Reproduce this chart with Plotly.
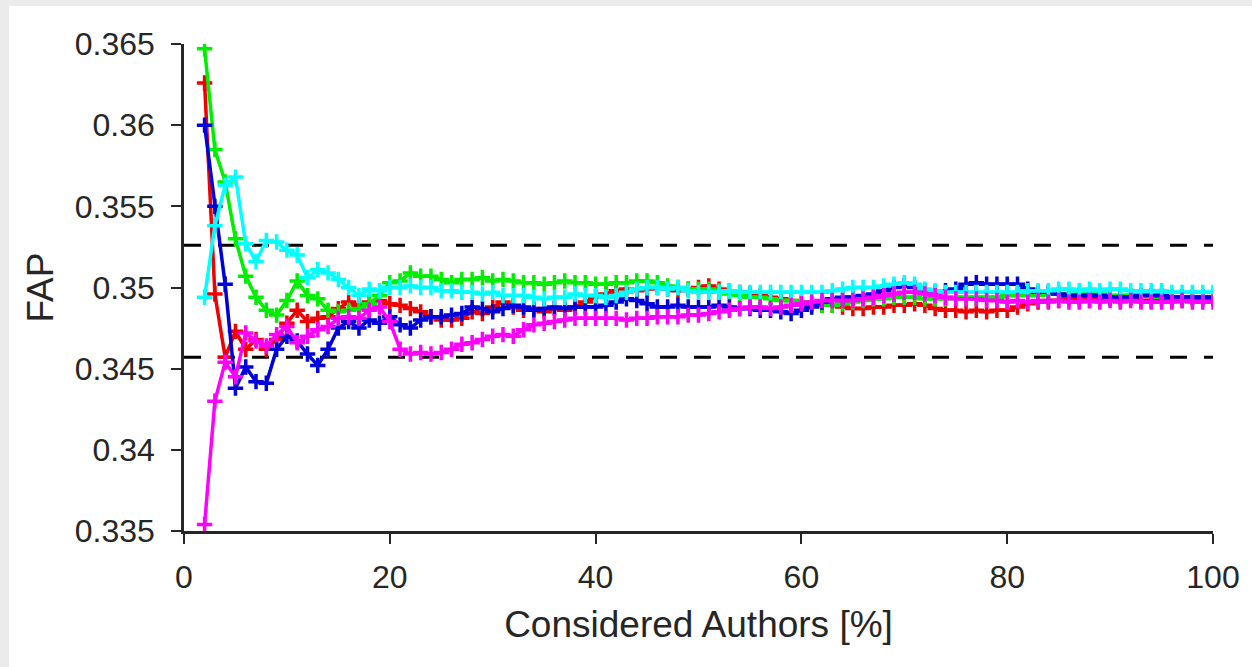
import plotly.graph_objects as go

pct = list(range(2, 101))

red = [0.3626, 0.3496, 0.3457, 0.3473, 0.3462, 0.3468, 0.3462, 0.3468, 0.3478, 0.3486,
       0.3479, 0.3481, 0.3482, 0.3487, 0.3491, 0.3489, 0.3491, 0.3492, 0.3490, 0.3489,
       0.3487, 0.3485, 0.3482, 0.3480, 0.3480, 0.3481, 0.3485, 0.3484, 0.3488, 0.3491,
       0.3488, 0.3486, 0.3487, 0.3485, 0.3487, 0.3486, 0.3488, 0.3491, 0.3494, 0.3496,
       0.3498, 0.3499, 0.3498, 0.3499, 0.3500, 0.3499, 0.3498, 0.3499, 0.3500, 0.3501,
       0.3499, 0.3498, 0.3497, 0.3496, 0.3495, 0.3494, 0.3493, 0.3492, 0.3491, 0.3490,
       0.3489, 0.3489, 0.3488, 0.3487, 0.3487, 0.3488, 0.3488, 0.3489, 0.3489, 0.3490,
       0.3489, 0.3487, 0.3486, 0.3486, 0.3485, 0.3486, 0.3485, 0.3486, 0.3486, 0.3488,
       0.3490, 0.3491, 0.3492, 0.3492, 0.3493, 0.3493, 0.3492, 0.3493, 0.3493, 0.3492,
       0.3493, 0.3492, 0.3492, 0.3493, 0.3492, 0.3492, 0.3493, 0.3493, 0.3493]

green = [0.3647, 0.3585, 0.3565, 0.3530, 0.3507, 0.3494, 0.3486, 0.3483, 0.3492, 0.3504,
         0.3495, 0.3493, 0.3486, 0.3485, 0.3486, 0.3487, 0.3490, 0.3495, 0.3503, 0.3504,
         0.3509, 0.3507, 0.3507, 0.3505, 0.3503, 0.3505, 0.3505, 0.3506, 0.3504, 0.3505,
         0.3504, 0.3503, 0.3503, 0.3502, 0.3503, 0.3504, 0.3503, 0.3503, 0.3502, 0.3502,
         0.3503, 0.3503, 0.3504, 0.3504, 0.3503, 0.3501, 0.3500, 0.3499, 0.3499, 0.3499,
         0.3498, 0.3496, 0.3495, 0.3494, 0.3494, 0.3493, 0.3492, 0.3492, 0.3491, 0.3490,
         0.3489, 0.3489, 0.3490, 0.3491, 0.3492, 0.3493, 0.3493, 0.3494, 0.3494, 0.3494,
         0.3493, 0.3493, 0.3493, 0.3494, 0.3494, 0.3494, 0.3494, 0.3494, 0.3495, 0.3495,
         0.3495, 0.3495, 0.3496, 0.3496, 0.3495, 0.3496, 0.3496, 0.3496, 0.3495, 0.3495,
         0.3495, 0.3495, 0.3495, 0.3494, 0.3494, 0.3494, 0.3494, 0.3494, 0.3494]

blue = [0.3600, 0.3550, 0.3502, 0.3438, 0.3451, 0.3442, 0.3441, 0.3462, 0.3470, 0.3467,
        0.3459, 0.3452, 0.3462, 0.3475, 0.3479, 0.3475, 0.3480, 0.3478, 0.3482, 0.3477,
        0.3475, 0.3480, 0.3482, 0.3482, 0.3483, 0.3484, 0.3488, 0.3487, 0.3485, 0.3487,
        0.3489, 0.3488, 0.3486, 0.3487, 0.3488, 0.3487, 0.3488, 0.3488, 0.3488, 0.3489,
        0.3491, 0.3493, 0.3492, 0.3490, 0.3488, 0.3488, 0.3489, 0.3488, 0.3488, 0.3488,
        0.3489, 0.3488, 0.3487, 0.3487, 0.3486, 0.3486, 0.3485, 0.3484, 0.3486, 0.3488,
        0.3491, 0.3493, 0.3494, 0.3494, 0.3495, 0.3496, 0.3498, 0.3500, 0.3501, 0.3500,
        0.3498, 0.3497, 0.3498, 0.3499, 0.3502, 0.3503, 0.3502, 0.3502, 0.3502, 0.3502,
        0.3499, 0.3497, 0.3497, 0.3496, 0.3495, 0.3495, 0.3495, 0.3495, 0.3494, 0.3494,
        0.3494, 0.3495, 0.3495, 0.3495, 0.3494, 0.3494, 0.3494, 0.3494, 0.3494]

cyan = [0.3494, 0.3538, 0.3563, 0.3568, 0.3527, 0.3516, 0.3529, 0.3528, 0.3523, 0.3520,
        0.3506, 0.3511, 0.3509, 0.3505, 0.3500, 0.3495, 0.3499, 0.3498, 0.3500, 0.3500,
        0.3501, 0.3500, 0.3500, 0.3498, 0.3498, 0.3497, 0.3497, 0.3496, 0.3497, 0.3495,
        0.3495, 0.3495, 0.3494, 0.3493, 0.3494, 0.3494, 0.3496, 0.3495, 0.3495, 0.3494,
        0.3495, 0.3497, 0.3499, 0.3500, 0.3500, 0.3499, 0.3500, 0.3498, 0.3497, 0.3497,
        0.3497, 0.3498, 0.3497, 0.3497, 0.3497, 0.3497, 0.3497, 0.3497, 0.3497, 0.3497,
        0.3497, 0.3498, 0.3499, 0.3500, 0.3500, 0.3500, 0.3501, 0.3502, 0.3503, 0.3502,
        0.3499, 0.3498, 0.3497, 0.3497, 0.3497, 0.3497, 0.3497, 0.3497, 0.3497, 0.3497,
        0.3498, 0.3498, 0.3498, 0.3499, 0.3499, 0.3498, 0.3499, 0.3498, 0.3499, 0.3499,
        0.3498, 0.3498, 0.3498, 0.3498, 0.3497, 0.3497, 0.3497, 0.3497, 0.3497]

magenta = [0.3354, 0.3430, 0.3454, 0.3445, 0.3472, 0.3467, 0.3464, 0.3471, 0.3476, 0.3466,
           0.3470, 0.3474, 0.3476, 0.3481, 0.3482, 0.3481, 0.3486, 0.3488, 0.3479, 0.3462,
           0.3459, 0.3460, 0.3459, 0.3460, 0.3462, 0.3465, 0.3466, 0.3468, 0.3470, 0.3471,
           0.3470, 0.3474, 0.3477, 0.3478, 0.3479, 0.3480, 0.3481, 0.3481, 0.3481, 0.3481,
           0.3481, 0.3480, 0.3481, 0.3481, 0.3482, 0.3482, 0.3482, 0.3483, 0.3483, 0.3484,
           0.3485, 0.3486, 0.3487, 0.3488, 0.3488, 0.3487, 0.3488, 0.3489, 0.3490, 0.3491,
           0.3492, 0.3492, 0.3492, 0.3492, 0.3493, 0.3494, 0.3495, 0.3496, 0.3497, 0.3497,
           0.3496, 0.3495, 0.3494, 0.3493, 0.3493, 0.3493, 0.3492, 0.3492, 0.3491, 0.3492,
           0.3491, 0.3492, 0.3491, 0.3492, 0.3491, 0.3491, 0.3492, 0.3491, 0.3492, 0.3491,
           0.3492, 0.3491, 0.3491, 0.3491, 0.3491, 0.3492, 0.3491, 0.3491, 0.3491]

bound_values = [0.3526, 0.3457]
bound_x = [0, 100]

y_ticks = [0.335, 0.34, 0.345, 0.35, 0.355, 0.36, 0.365]
y_tick_text = ["0.335", "0.34", "0.345", "0.35", "0.355", "0.36", "0.365"]
x_ticks = [0, 20, 40, 60, 80, 100]

series = [
    ("red", red, "#f00000"),
    ("green", green, "#00ee00"),
    ("blue", blue, "#0000dd"),
    ("cyan", cyan, "#00ffff"),
    ("magenta", magenta, "#ff00ff"),
]

fig = go.Figure()

for b in bound_values:
    fig.add_trace(go.Scatter(
        x=bound_x, y=[b, b], mode="lines",
        line=dict(color="black", width=3, dash="17px,17px"),
        showlegend=False, hoverinfo="skip"))

for name, vals, col in series:
    fig.add_trace(go.Scatter(
        x=pct, y=vals, mode="lines+markers", name=name,
        line=dict(color=col, width=3.5),
        marker=dict(symbol="cross-thin", size=11, color=col,
                    line=dict(color=col, width=3.5)),
        showlegend=False))

axis_color = "#262626"
font_family = "Liberation Sans, Arial, sans-serif"

fig.update_layout(
    width=1252, height=667,
    margin=dict(l=184, r=39, t=44, b=136),
    paper_bgcolor="white", plot_bgcolor="white",
    font=dict(family=font_family, color=axis_color, size=32),
    xaxis=dict(
        range=[0, 100], tickvals=x_ticks, ticks="outside", ticklen=10, tickwidth=2,
        tickcolor=axis_color, showline=True, linecolor=axis_color, linewidth=2.5,
        showgrid=False, zeroline=False, mirror=False,
        tickfont=dict(size=32, color=axis_color), ticklabelstandoff=6,
        title=dict(text="Considered Authors [%]", font=dict(size=37, color=axis_color), standoff=17),
    ),
    yaxis=dict(
        range=[0.335, 0.365], tickvals=y_ticks, ticktext=y_tick_text, ticks="outside",
        ticklen=10, tickwidth=2, tickcolor=axis_color, showline=True,
        linecolor=axis_color, linewidth=2.5, showgrid=False, zeroline=False,
        tickfont=dict(size=32, color=axis_color), ticklabelstandoff=10,
        title=dict(text="FAP", font=dict(size=37, color=axis_color), standoff=10),
    ),
    shapes=[
        dict(type="rect", xref="paper", yref="paper", x0=-0.2, x1=1.05,
             y0=(531 - 6) / 487, y1=(531) / 487 + 0.1, fillcolor="#ebebeb",
             line=dict(width=0), layer="below"),
        dict(type="rect", xref="paper", yref="paper", x0=-0.2, x1=(9 - 184) / 1029,
             y0=-0.3, y1=1.2, fillcolor="#ebebeb", line=dict(width=0), layer="below"),
    ],
)

fig.write_html("out.html")
